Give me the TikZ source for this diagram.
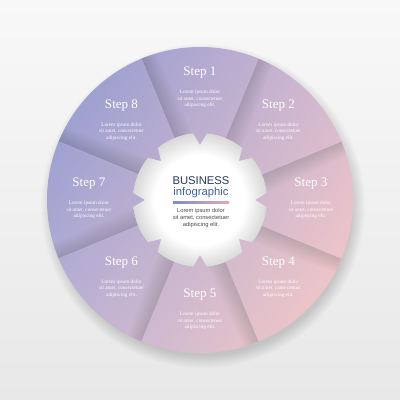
\documentclass[tikz,border=0pt]{standalone}
\usepackage{fontspec}
\setmainfont{Liberation Serif}
\setsansfont{Liberation Sans}
\usepackage{tikz}
\usetikzlibrary{positioning,shadings}

\definecolor{bgtop}{HTML}{F8F8F8}
\definecolor{bgbot}{HTML}{E8E8E8}
\definecolor{segul}{HTML}{8E98D0}
\definecolor{segur}{HTML}{D4B9D0}
\definecolor{segll}{HTML}{BCB2D5}
\definecolor{seglr}{HTML}{FACBC4}
\definecolor{biznavy}{HTML}{26395F}
\definecolor{bizblue}{HTML}{40609E}
\definecolor{barblue}{HTML}{7D8BC6}
\definecolor{barpink}{HTML}{E6AAB6}
\definecolor{lorgray}{HTML}{4A4A4A}

\pgfdeclareradialshading{holeglow}{\pgfpointorigin}{color(0bp)=(white); color(17bp)=(white); color(25bp)=(black!15); color(50bp)=(black!15)}

\tikzset{
  steptitle/.style={text=white, font=\fontsize{9.3}{10}\selectfont, inner sep=0pt},
  steptext/.style={text=white, font=\fontsize{3.7}{4.6}\selectfont, align=center, inner sep=0pt},
  bizfont/.style={font=\sffamily\fontsize{8}{9}\selectfont, inner sep=0pt},
}

\begin{document}
\begin{tikzpicture}[x=0.025cm, y=0.025cm]
        \useasboundingbox (-200,-200) rectangle (200,200);
        \shade[top color=bgtop, bottom color=bgbot] (-200,-200) rectangle (200,200);
        % soft shadow under the wheel
        \foreach \r in {150,...,162}
          \fill[black, opacity=0.012] (3,-6) circle (\r);
        \shade[upper left=segul, upper right=segur, lower left=segll, lower right=seglr] (0,0) circle (153);
        % folds between the steps
        \foreach \f in {22.5,67.5,...,337.5}
         {
        \foreach \j in {1,...,8}
          \fill[black, opacity=0.016] (\f:153) -- (\f:67) -- ({\f-2*\j}:67) -- ({\f-0.7*\j}:153) -- cycle;
        \draw[white, opacity=0.25, line width=0.3pt] (\f:67) -- (\f:153);
         }
        % hole in the middle
        \shade[shading=holeglow] (96:67) \foreach \a in {90,45,...,-225} { -- ({\a+6}:67) -- (\a:55) -- ({\a-6}:67) arc[start angle=\a-6, end angle=\a-39, radius=67] } -- cycle;
        \foreach \i in {1,...,8}
         {
        \pgfmathsetmacro\a{90-45*(\i-1)}
        \coordinate (c\i) at (\a:111);
        \node[steptitle] (t\i) at ([yshift=0.4cm]c\i) {Step \i};
        \node[steptext] (l\i) at ([yshift=-0.25cm]c\i) {Lorem ipsum dolor\\sit amet, consectetuer\\adipiscing elit.};
         }
        \node[bizfont, text=biznavy] (biz) at (1,19) {BUSINESS};
        \node[bizfont, text=bizblue] (info) at (1,7.7) {infographic};
        \shade[left color=barblue, right color=barpink] (-27,-4) rectangle (29,-1.5);
        \node[font=\sffamily\fontsize{4.1}{5}\selectfont, text=lorgray, align=center, inner sep=0pt] (desc) at (1,-17.7) {Lorem ipsum dolor\\sit amet, consectetuer\\adipiscing elit.};
        \end{tikzpicture}
\end{document}
